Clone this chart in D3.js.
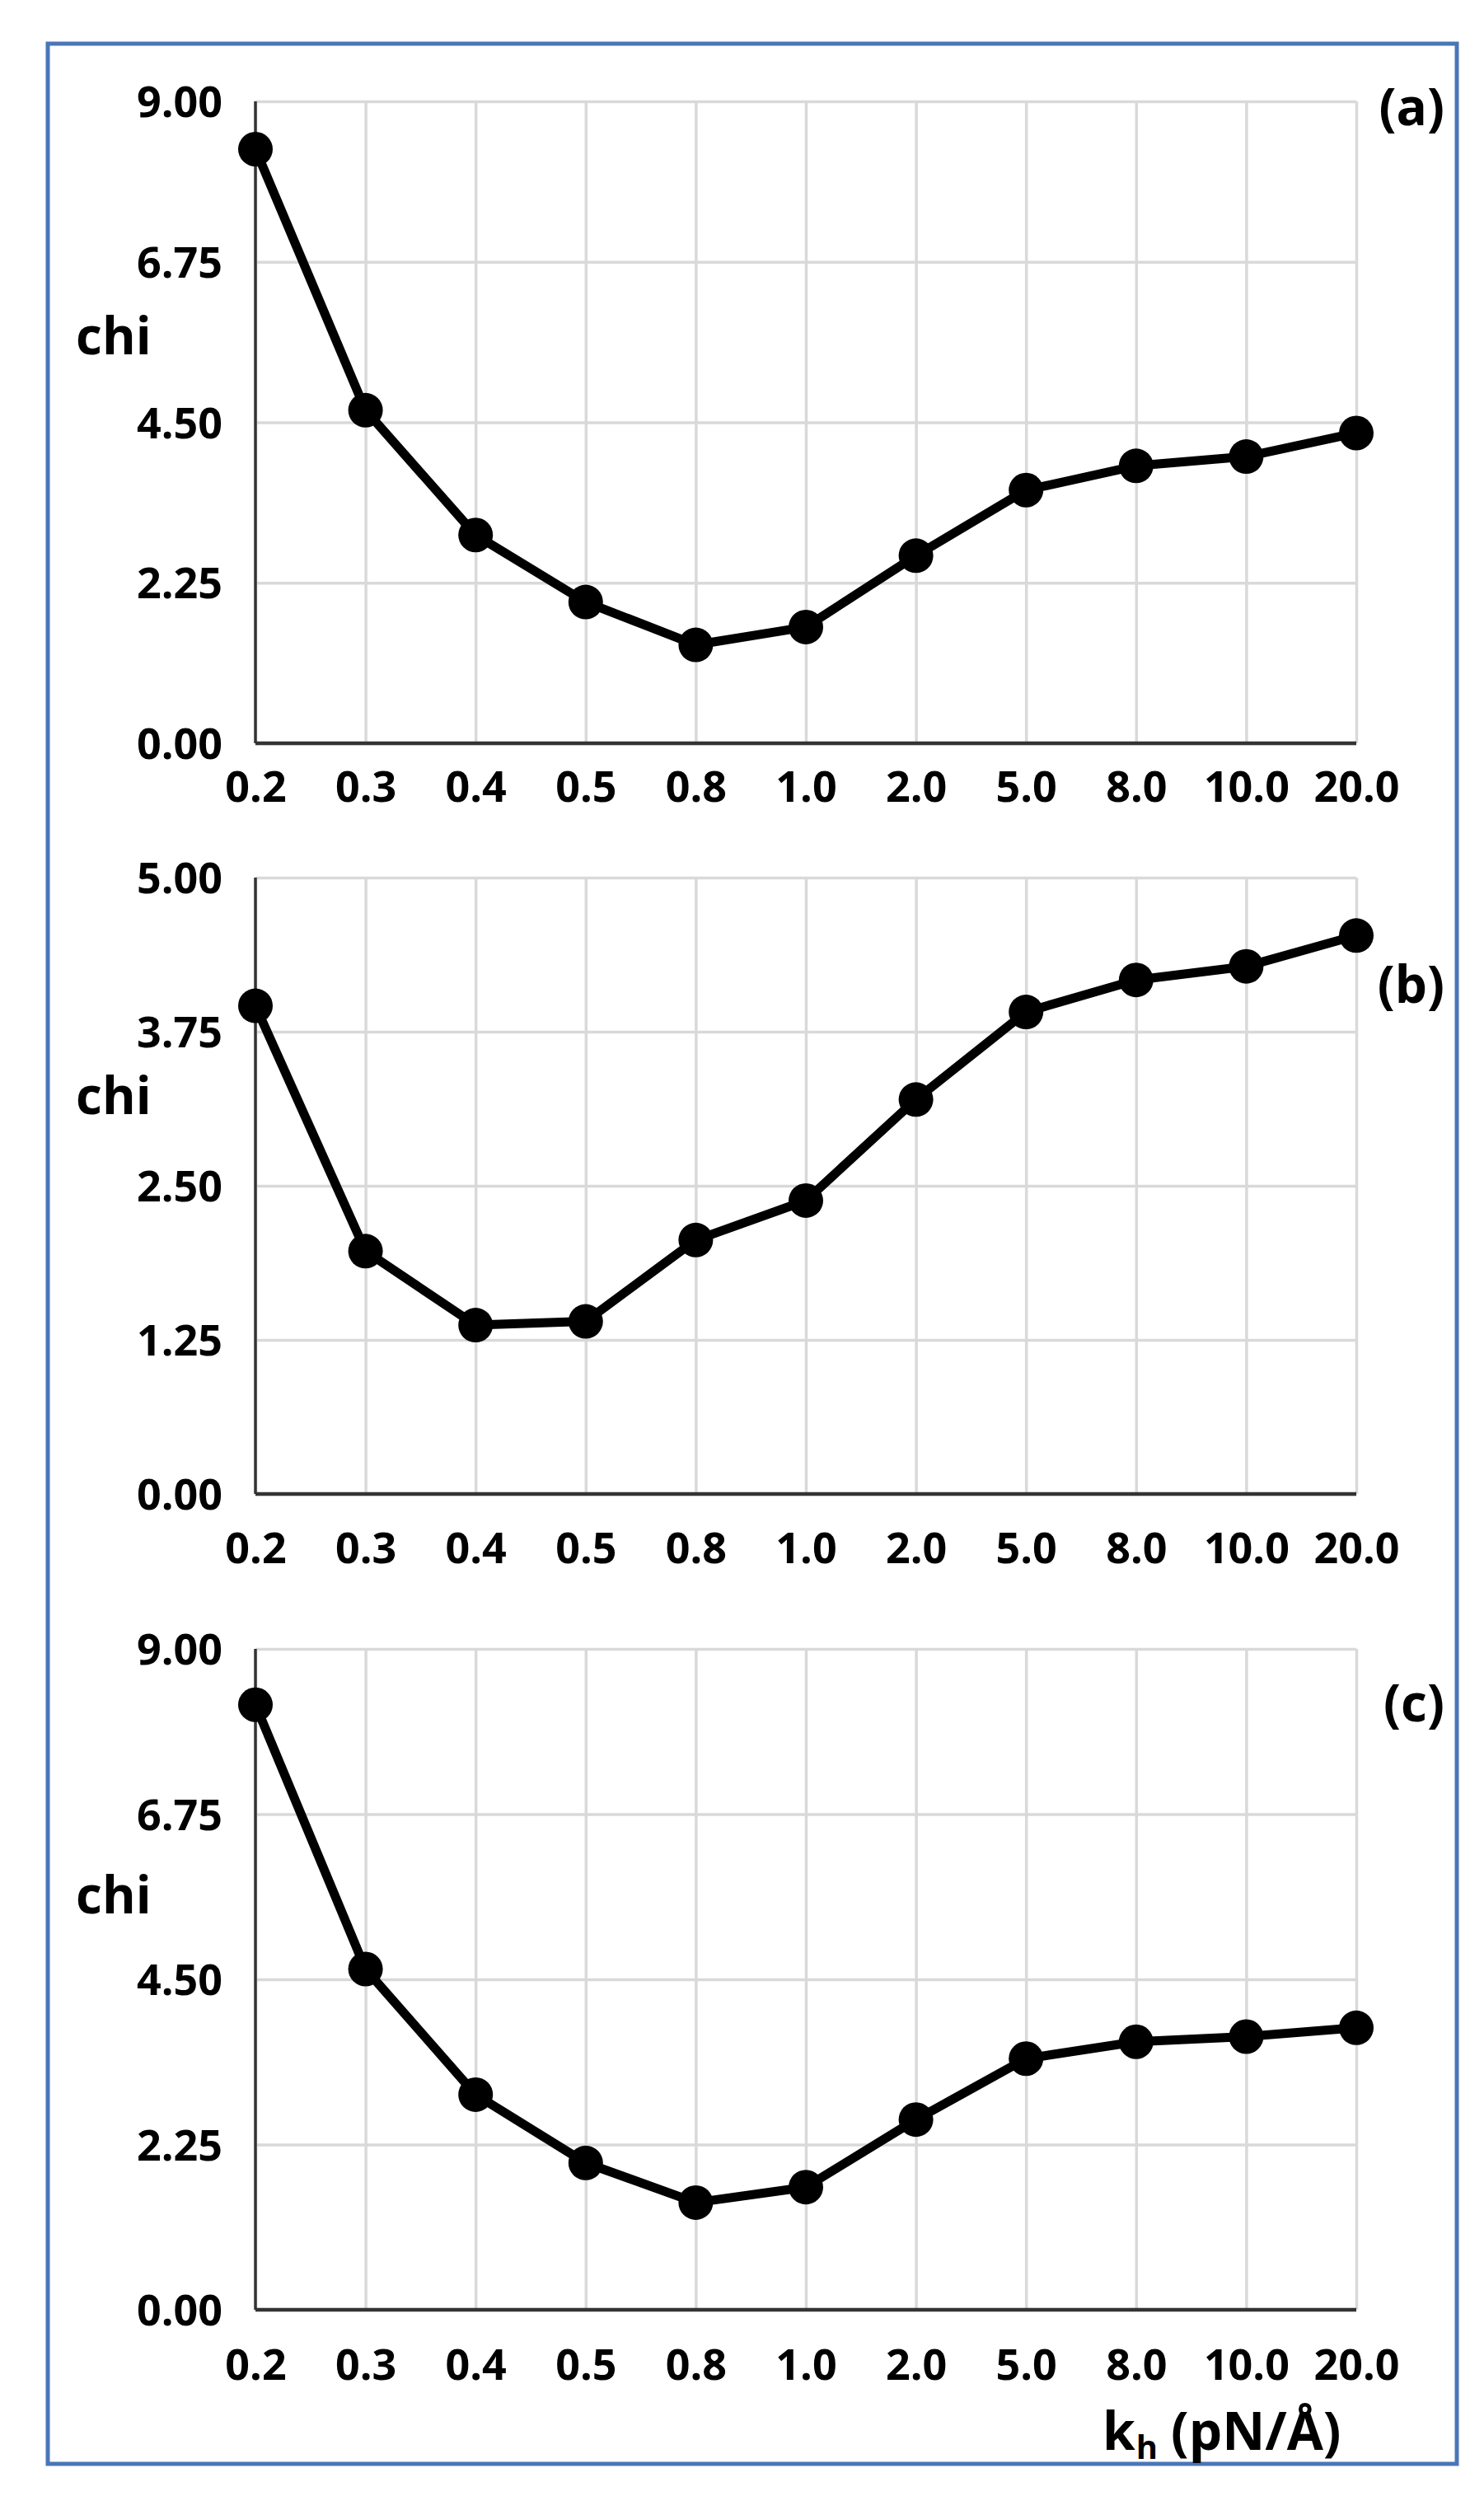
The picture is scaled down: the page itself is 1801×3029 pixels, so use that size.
<!DOCTYPE html>
<html>
<head>
<meta charset="utf-8">
<script src="https://cdn.jsdelivr.net/npm/d3@7"></script>
<style>
  body { margin: 0; background: #fff; }
  svg { display: block; font-family: "Open Sans", sans-serif; font-weight: bold; }
</style>
</head>
<body>
<div id="chart"></div>
<script>
// k_h values (categories on the x axis)
const categories = ["0.2", "0.3", "0.4", "0.5", "0.8", "1.0", "2.0", "5.0", "8.0", "10.0", "20.0"];

// chi values
const chiA = [8.33, 4.67, 2.92, 1.98, 1.38, 1.63, 2.63, 3.55, 3.89, 4.02, 4.35];
const chiB = [3.96, 1.97, 1.37, 1.40, 2.06, 2.38, 3.20, 3.91, 4.17, 4.28, 4.53];
const chiC = [8.24, 4.64, 2.93, 2.00, 1.46, 1.67, 2.59, 3.42, 3.65, 3.72, 3.84];

// y tick labels
const ticksA = [0, 2.25, 4.5, 6.75, 9];
const ticksB = [0, 1.25, 2.5, 3.75, 5];
const ticksC = [0, 2.25, 4.5, 6.75, 9];

const panelNames = ["(a)", "(b)", "(c)"];

const W = 1801, H = 3029;
const left = 310, right = 1646;

// panel geometry: top/bottom of plot area, x label centre, chi label baseline, panel label baseline
const panels = [
    { values: chiA, ticks: ticksA, max: 9, top: 123, bottom: 902, xLab: 954, chiY: 430, tagY: 152 },
    { values: chiB, ticks: ticksB, max: 5, top: 1065, bottom: 1813, xLab: 1878, chiY: 1352, tagY: 1217 },
    { values: chiC, ticks: ticksC, max: 9, top: 2001, bottom: 2803, xLab: 2869, chiY: 2322, tagY: 2089 }
];

const svg = d3.select("#chart")
    .append("svg")
    .attr("width", W)
    .attr("height", H);

svg.append("rect")
    .attr("width", W).attr("height", H)
    .attr("fill", "#fff");

// blue frame around the figure
svg.append("rect")
    .attr("x", 58).attr("y", 53)
    .attr("width", 1768 - 58).attr("height", 2990 - 53)
    .attr("fill", "none")
    .attr("stroke", "#4a76b8")
    .attr("stroke-width", 5);

const x = d3.scalePoint()
    .domain(categories)
    .range([left, right]);

const fmt = d3.format(".2f");

panels.forEach((p, i) => {
    const y = d3.scaleLinear()
        .domain([0, p.max])
        .range([p.bottom, p.top]);

    const g = svg.append("g");

    // horizontal gridlines + y labels
    const yAxis = d3.axisLeft(y)
        .tickValues(p.ticks)
        .tickFormat(fmt)
        .tickSize(-(right - left))
        .tickPadding(40);

    const gy = g.append("g")
        .attr("transform", `translate(${left},0)`)
        .call(yAxis);
    gy.select(".domain").remove();
    gy.selectAll(".tick line")
        .attr("stroke", "#d9d9d9")
        .attr("stroke-width", 3.5);
    gy.selectAll(".tick text")
        .attr("font-size", 52)
        .attr("font-family", "Open Sans")
        .attr("font-weight", "bold")
        .attr("fill", "#000")
        .attr("dy", "0.36em");

    // vertical gridlines + x labels
    const xAxis = d3.axisBottom(x)
        .tickSize(-(p.bottom - p.top))
        .tickPadding(0);

    const gx = g.append("g")
        .attr("transform", `translate(0,${p.bottom})`)
        .call(xAxis);
    gx.select(".domain").remove();
    gx.selectAll(".tick line")
        .attr("stroke", "#d9d9d9")
        .attr("stroke-width", 3.5);
    gx.selectAll(".tick text")
        .attr("font-size", 52)
        .attr("font-family", "Open Sans")
        .attr("font-weight", "bold")
        .attr("fill", "#000")
        .attr("y", p.xLab - p.bottom)
        .attr("dy", "0.36em");

    // axis lines
    g.append("line")
        .attr("x1", left).attr("x2", left)
        .attr("y1", p.top).attr("y2", p.bottom)
        .attr("stroke", "#333").attr("stroke-width", 3.5);
    g.append("line")
        .attr("x1", left).attr("x2", right)
        .attr("y1", p.bottom).attr("y2", p.bottom)
        .attr("stroke", "#333").attr("stroke-width", 4.5);

    const data = categories.map((c, j) => ({ c, v: p.values[j] }));

    g.append("path")
        .datum(data)
        .attr("fill", "none")
        .attr("stroke", "#000")
        .attr("stroke-width", 11)
        .attr("stroke-linejoin", "round")
        .attr("d", d3.line().x(d => x(d.c)).y(d => y(d.v)));

    g.selectAll("circle")
        .data(data)
        .join("circle")
        .attr("cx", d => x(d.c))
        .attr("cy", d => y(d.v))
        .attr("r", 21)
        .attr("fill", "#000");

    // y axis title
    g.append("text")
        .attr("x", 92)
        .attr("y", p.chiY)
        .attr("font-size", 62)
        .text("chi");

    // panel tag
    g.append("text")
        .attr("x", 1753)
        .attr("y", p.tagY)
        .attr("text-anchor", "end")
        .attr("font-size", 62)
        .text(panelNames[i]);
});

// x axis title under the last panel: k, subscript h, then the unit
let tx = 1338;
const kText = svg.append("text")
    .attr("x", tx).attr("y", 2973)
    .attr("font-size", 64)
    .text("k");
tx += kText.node().getComputedTextLength() + 1;
const hText = svg.append("text")
    .attr("x", tx).attr("y", 2984)
    .attr("font-size", 40)
    .text("h");
tx += hText.node().getComputedTextLength() + 16;
svg.append("text")
    .attr("x", tx).attr("y", 2973)
    .attr("font-size", 64)
    .text("(pN/Å)");
</script>
</body>
</html>
